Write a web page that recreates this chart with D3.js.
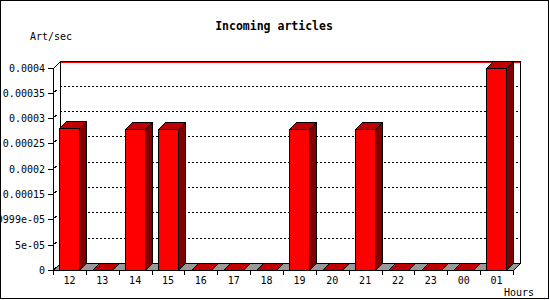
<!DOCTYPE html>
<html>
<head>
  <title>Incoming articles</title>
  <style type="text/css">
    body { margin: 0; background: #fff; }
    text { font-family: "DejaVu Sans Mono", monospace; font-size: 10px; fill: #000; }
  </style>
</head>
<body>
  <div id="my_dataviz"></div>
<script src="https://d3js.org/d3.v7.min.js"></script>
<script type="text/javascript">

      // data
      var hours = ["12","13","14","15","16","17","18","19","20","21","22","23","00","01"];
      var rates = [0.00028, 0, 0.000278, 0.000278, 0, 0, 0, 0.000278, 0, 0.000278, 0, 0, 0, 0.000399];
      var tickValues = [0, 0.00005, 0.0001, 0.00015, 0.0002, 0.00025, 0.0003, 0.00035, 0.0004];
      var tickLabels = ["0", "5e-05", "9.9999e-05", "0.00015", "0.0002", "0.00025", "0.0003", "0.00035", "0.0004"];

      var W = 550, H = 300;
      var margin = {top: 67.5, right: 37, bottom: 30, left: 53};
      var depth = 7;   // 3d offset, right and up

      var svg = d3.select("#my_dataviz")
        .append("svg")
          .attr("width", W)
          .attr("height", H)
          .style("display", "block");

      var x = d3.scaleBand()
        .domain(hours)
        .range([margin.left, W - margin.right])
        .padding(0);

      var y = d3.scaleLinear()
        .domain([0, 0.0004])
        .range([H - margin.bottom, margin.top]);

      var x0 = margin.left, x1 = W - margin.right;
      var y0 = y(0), yTop = y(0.0004);

      // outer frame
      svg.append("rect")
        .attr("x", 0.5).attr("y", 0.5)
        .attr("width", W - 2).attr("height", H - 2)
        .attr("fill", "none").attr("stroke", "#000");

      svg.append("text")
        .attr("x", 274).attr("y", 30)
        .attr("text-anchor", "middle")
        .style("font-weight", "bold")
        .style("font-size", "11.5px")
        .text("Incoming articles");

      svg.append("text").attr("x", 30).attr("y", 40).text("Art/sec");
      svg.append("text").attr("x", 504).attr("y", 296).text("Hours");

      var g = svg.append("g").attr("shape-rendering", "crispEdges");

      // back wall grid lines (dotted)
      g.selectAll(".grid")
        .data(tickValues.slice(1, -1))
        .enter().append("line")
          .attr("x1", x0 + depth).attr("x2", x1 + depth)
          .attr("y1", function(d) { return Math.round(y(d)) - depth + 0.5; })
          .attr("y2", function(d) { return Math.round(y(d)) - depth + 0.5; })
          .attr("stroke", "#000")
          .attr("stroke-dasharray", "2,2");

      // back wall edges
      g.append("line")
        .attr("x1", x0 + depth + 0.5).attr("x2", x0 + depth + 0.5)
        .attr("y1", yTop - depth).attr("y2", y0 - depth)
        .attr("stroke", "#000");
      g.append("line")
        .attr("x1", x1 + depth + 0.5).attr("x2", x1 + depth + 0.5)
        .attr("y1", yTop - depth).attr("y2", y0 - depth)
        .attr("stroke", "#000");
      g.append("line")
        .attr("x1", x0 + depth).attr("x2", x1 + depth + 1)
        .attr("y1", Math.round(yTop) - depth + 0.5).attr("y2", Math.round(yTop) - depth + 0.5)
        .attr("stroke", "#000");
      g.append("line")
        .attr("x1", x0 + depth + 1).attr("x2", x1 + depth)
        .attr("y1", Math.round(yTop) - depth + 1.5).attr("y2", Math.round(yTop) - depth + 1.5)
        .attr("stroke", "#f00");
      g.append("line")
        .attr("x1", x0 + 0.5).attr("x2", x0 + depth + 0.5)
        .attr("y1", Math.round(yTop) + 0.5).attr("y2", Math.round(yTop) - depth + 0.5)
        .attr("stroke", "#000");

      // small slanted stubs from the front axis
      g.selectAll(".stub")
        .data(tickValues.slice(1, -1))
        .enter().append("line")
          .attr("x1", x0 + 1.5).attr("x2", x0 + 3.5)
          .attr("y1", function(d) { return Math.round(y(d)) - 1; })
          .attr("y2", function(d) { return Math.round(y(d)) - 3; })
          .attr("stroke", "#000");

      // floor
      g.append("path")
        .attr("d", "M" + x0 + "," + (y0 + 0.5) + "L" + (x1 + 0.5) + "," + (y0 + 0.5) +
                   "L" + (x1 + depth + 0.5) + "," + (y0 - depth + 0.5) +
                   "L" + (x0 + depth + 0.5) + "," + (y0 - depth + 0.5) + "Z")
        .attr("fill", "#999")
        .attr("stroke", "#000");

      // bars
      var bw = x.bandwidth();
      var barW = 20;
      var bars = g.selectAll(".bar")
        .data(hours.map(function(h, i) { return {hour: h, value: rates[i]}; }))
        .enter().append("g");

      bars.each(function(d) {
        var b = d3.select(this);
        var bx = Math.floor(x(d.hour) + bw * 0.2) + 0.5;
        var by = Math.round(y(d.value)) + 0.5;
        var bb = Math.round(y0) + 0.5;
        // top face
        b.append("path")
          .attr("d", "M" + bx + "," + by + "L" + (bx + depth) + "," + (by - depth) +
                     "L" + (bx + barW + depth) + "," + (by - depth) + "L" + (bx + barW) + "," + by + "Z")
          .attr("fill", "#c00000").attr("stroke", "#000");
        if (d.value > 0) {
          b.append("rect")
            .attr("x", bx).attr("y", by)
            .attr("width", barW).attr("height", bb - by)
            .attr("fill", "#f00").attr("stroke", "#000");
          b.append("path")
            .attr("d", "M" + (bx + barW) + "," + by + "L" + (bx + barW + depth) + "," + (by - depth) +
                       "L" + (bx + barW + depth) + "," + (bb - depth) + "L" + (bx + barW) + "," + bb + "Z")
            .attr("fill", "#800000").attr("stroke", "#000");
        }
      });

      // front y axis
      g.append("line")
        .attr("x1", x0 + 0.5).attr("x2", x0 + 0.5)
        .attr("y1", Math.round(yTop)).attr("y2", y0 + 5)
        .attr("stroke", "#000");

      g.selectAll(".ytick")
        .data(tickValues)
        .enter().append("line")
          .attr("x1", x0 - 5).attr("x2", x0)
          .attr("y1", function(d) { return Math.round(y(d)) + 0.5; })
          .attr("y2", function(d) { return Math.round(y(d)) + 0.5; })
          .attr("stroke", "#000");

      svg.selectAll(".ylabel")
        .data(tickValues)
        .enter().append("text")
          .attr("x", x0 - 8)
          .attr("y", function(d) { return Math.round(y(d)) + 4; })
          .attr("text-anchor", "end")
          .text(function(d, i) { return tickLabels[i]; });

      // x ticks at band edges
      var edges = hours.map(function(h) { return x(h); }).concat([x1]);
      g.selectAll(".xtick")
        .data(edges)
        .enter().append("line")
          .attr("x1", function(d) { return Math.round(d) + 0.5; })
          .attr("x2", function(d) { return Math.round(d) + 0.5; })
          .attr("y1", y0).attr("y2", y0 + 5)
          .attr("stroke", "#000");

      svg.selectAll(".xlabel")
        .data(hours)
        .enter().append("text")
          .attr("x", function(d) { return x(d) + bw / 2; })
          .attr("y", 284)
          .attr("text-anchor", "middle")
          .text(function(d) { return d; });

</script>
</body>
</html>
